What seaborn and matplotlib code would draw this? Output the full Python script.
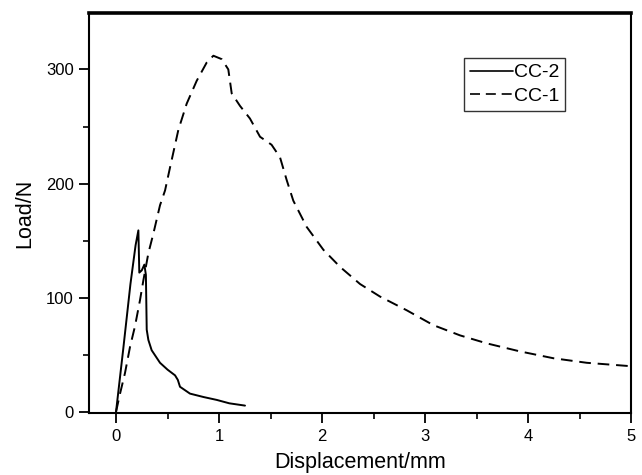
import matplotlib
matplotlib.use("Agg")
import matplotlib.pyplot as plt
import seaborn as sns
import pandas as pd
from matplotlib.ticker import MultipleLocator

# ---- data ----
cc2_disp = [0.0, 0.07, 0.14, 0.19, 0.217, 0.226, 0.25, 0.275, 0.29, 0.298, 0.314,
            0.346, 0.427, 0.50, 0.573, 0.60, 0.621, 0.718, 0.85, 0.977, 1.10, 1.252]
cc2_load = [0.0, 55, 112, 146, 159, 122, 124, 129, 120, 72, 63,
            54, 43, 37, 32, 28, 22, 16, 13, 10.5, 7.5, 5.5]

cc1_disp = [0.0, 0.039, 0.087, 0.136, 0.184, 0.233, 0.265, 0.314, 0.362, 0.427,
            0.476, 0.524, 0.605, 0.686, 0.783, 0.88, 0.945, 1.026, 1.09, 1.123,
            1.204, 1.30, 1.398, 1.51, 1.592, 1.657, 1.721, 1.851, 2.013, 2.175,
            2.369, 2.563, 2.822, 3.08, 3.34, 3.6, 3.92, 4.245, 4.57, 5.0]
cc1_load = [0.0, 16, 34, 57, 75, 98, 115, 139, 156, 181,
            194, 214, 247, 270, 290, 306, 312, 309, 300, 279,
            268, 257, 241, 234, 223, 203, 185, 162, 142, 127,
            112, 101, 89, 76, 67, 60, 53, 47, 43, 40]

series_names = ["CC-2", "CC-1"]
x_label = "Displacement/mm"
y_label = "Load/N"

df = pd.concat([
    pd.DataFrame({"disp": cc2_disp, "load": cc2_load, "specimen": series_names[0]}),
    pd.DataFrame({"disp": cc1_disp, "load": cc1_load, "specimen": series_names[1]}),
], ignore_index=True)

sns.set_theme(style="ticks")
plt.rcParams["font.family"] = ["Liberation Sans", "DejaVu Sans"]
for key in ["text.color", "axes.labelcolor", "xtick.color", "ytick.color",
            "axes.edgecolor"]:
    plt.rcParams[key] = "black"

fig = plt.figure(figsize=(6.42, 4.75), dpi=100)
ax = fig.add_axes([0.139, 0.130, 0.844, 0.8416])

sns.lineplot(data=df, x="disp", y="load", style="specimen",
             style_order=series_names,
             dashes={"CC-2": "", "CC-1": (6, 3.5)},
             color="black", linewidth=1.4, sort=False, estimator=None, ax=ax)

ax.set_xlim(-0.26, 5.0)
ax.set_ylim(-1.2, 349)
ax.xaxis.set_major_locator(MultipleLocator(1))
ax.xaxis.set_minor_locator(MultipleLocator(0.5))
ax.yaxis.set_major_locator(MultipleLocator(100))
ax.yaxis.set_minor_locator(MultipleLocator(50))
ax.tick_params(axis="both", which="major", direction="out", length=7, width=1.3,
               labelsize=12, colors="black", pad=4)
ax.tick_params(axis="both", which="minor", direction="out", length=4, width=1.2,
               colors="black")

for side in ["left", "bottom", "right"]:
    ax.spines[side].set_visible(True)
    ax.spines[side].set_linewidth(1.5)
    ax.spines[side].set_color("black")
ax.spines["top"].set_visible(True)
ax.spines["top"].set_linewidth(2.6)
ax.spines["top"].set_color("black")

ax.set_xlabel(x_label, fontsize=15.5, labelpad=6, color="black")
ax.set_ylabel(y_label, fontsize=15.5, labelpad=8, color="black")

leg = ax.legend(loc="upper left", bbox_to_anchor=(0.692, 0.889), borderaxespad=0,
                fontsize=14, handlelength=2.2, handletextpad=0.05,
                labelspacing=0.3, borderpad=0.3, frameon=True, fancybox=False,
                title=None)
leg.get_frame().set_edgecolor("black")
leg.get_frame().set_linewidth(1.0)
for t in leg.get_texts():
    t.set_color("black")
for h in leg.get_lines():
    h.set_linewidth(1.2)

fig.savefig("out.png", dpi=100)
